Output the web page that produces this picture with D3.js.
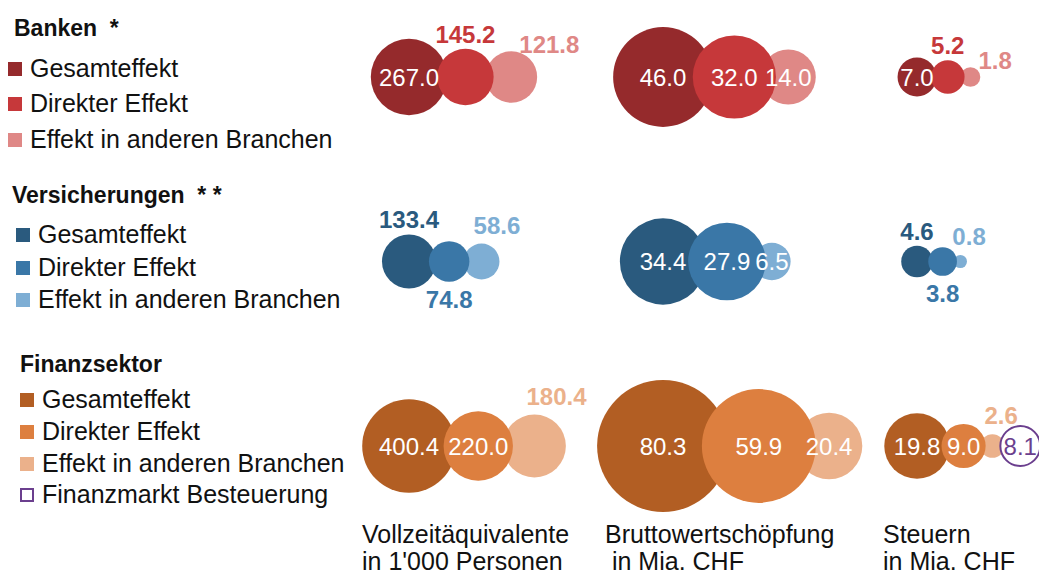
<!DOCTYPE html>
<html>
<head>
<meta charset="utf-8">
<script src="https://cdn.jsdelivr.net/npm/d3@7"></script>
<style>
  body { margin: 0; background: #fff; }
  text { font-family: "Liberation Sans", Arial, sans-serif; }
</style>
</head>
<body>
<div class="chart"></div>
<script>
// Data
const groups = ["Banken", "Versicherungen", "Finanzsektor"];
const groupTitles = ["Banken  *", "Versicherungen  * *", "Finanzsektor"];
const effects = ["Gesamteffekt", "Direkter Effekt", "Effekt in anderen Branchen"];
const columns = ["Vollzeitäquivalente", "Bruttowertschöpfung", "Steuern"];
const columnUnits = ["in 1'000 Personen", " in Mia. CHF", "in Mia. CHF"];

// values per column: [Gesamt, Direkt, andere Branchen]
const banken = [[267.0, 145.2, 121.8], [46.0, 32.0, 14.0], [7.0, 5.2, 1.8]];
const versicherungen = [[133.4, 74.8, 58.6], [34.4, 27.9, 6.5], [4.6, 3.8, 0.8]];
const finanzsektor = [[400.4, 220.0, 180.4], [80.3, 59.9, 20.4], [19.8, 9.0, 2.6]];
const finanzmarktLabel = "Finanzmarkt Besteuerung";
const finanzmarktSteuer = 8.1;

const values = [banken, versicherungen, finanzsektor];

// Styling / layout
const colors = [
  ["#952a2c", "#c6383a", "#df8886"],
  ["#2a5a7e", "#3a77a7", "#7eaed4"],
  ["#b25e23", "#dd7f3f", "#ebb18b"]
];
const purple = "#6b3f8e";

// where the value label goes: in, n (above), s (below), ne (above right)
const placement = [
  [["in", "n", "ne2"], ["in", "in", "in"], ["in", "n", "ne2"]],
  [["n", "s", "ne"], ["in", "in", "in"], ["n", "s", "ne"]],
  [["in", "in", "ne"], ["in", "in", "in"], ["in", "in", "ne"]]
];
const packing = [0.85, 0.78, 0.85];
const captionShift = [-47, -58, -34];

const width = 1039, height = 576;

const svg = d3.select(".chart").append("svg")
  .attr("width", width)
  .attr("height", height);

// scales
const x = d3.scalePoint().domain(columns).range([409, 917]);
const y = d3.scalePoint().domain(groups).range([77, 446]);

const rPersons = d3.scaleSqrt().domain([0, 400.4]).range([0, 46.8]);
const rChf = d3.scaleSqrt().domain([0, 80.3]).range([0, 65.9]);
const radius = [rPersons, rChf, rChf];

// build bubble list with chained x positions
const bubbles = [];
groups.forEach((g, gi) => {
  columns.forEach((c, ci) => {
    const r = radius[ci];
    let cx = x(c);
    let prevR = null;
    const list = values[gi][ci].map((v, i) => ({ value: v, idx: i, color: colors[gi][i], fill: true }));
    if (gi === 2 && ci === 2) list.push({ value: finanzmarktSteuer, idx: 3, color: purple, fill: false });
    list.forEach((d) => {
      d.r = r(d.value);
      if (prevR !== null) cx += packing[ci] * (prevR + d.r);
      d.cx = cx;
      d.cy = y(g);
      d.place = d.idx < 3 ? placement[gi][ci][d.idx] : "in";
      prevR = d.r;
      bubbles.push(d);
    });
  });
});

// draw order: middle circle on top
const order = { 2: 0, 0: 1, 3: 1, 1: 2 };
const sorted = bubbles.slice().sort((a, b) => order[a.idx] - order[b.idx]);

svg.append("g").selectAll("circle")
  .data(sorted)
  .join("circle")
  .attr("cx", (d) => d.cx)
  .attr("cy", (d) => d.cy)
  .attr("r", (d) => d.fill ? d.r : d.r - 1)
  .attr("fill", (d) => d.fill ? d.color : "#fff")
  .attr("stroke", (d) => d.fill ? "none" : d.color)
  .attr("stroke-width", 2);

const fmt = d3.format(".1f");

svg.append("g").selectAll("text")
  .data(bubbles)
  .join("text")
  .attr("x", (d) => {
    if (d.place === "ne") return d.cx - 8;
    if (d.place === "ne2") return d.cx + 8;
    return d.cx;
  })
  .attr("y", (d) => {
    if (d.place === "in") return d.cy;
    if (d.place === "n") return d.cy - d.r - 6;
    if (d.place === "s") return d.cy + d.r + 26;
    if (d.place === "ne") return d.cy - d.r - 10;
    return d.cy - d.r + 2;
  })
  .attr("dy", (d) => d.place === "in" ? "0.36em" : null)
  .attr("text-anchor", (d) => d.place.startsWith("ne") ? "start" : "middle")
  .attr("font-size", "24px")
  .attr("font-weight", (d) => d.place === "in" ? "normal" : "bold")
  .attr("fill", (d) => (d.place === "in" && d.fill) ? "#fff" : d.color)
  .text((d) => fmt(d.value));

// legend
const legendPos = [
  { x: 8, tx: 14, title: 36, items: [77, 112, 148] },
  { x: 16, tx: 12, title: 203, items: [243, 276, 308] },
  { x: 20, tx: 20, title: 372, items: [408, 440, 472, 503] }
];

groups.forEach((g, gi) => {
  const lp = legendPos[gi];
  const lg = svg.append("g");
  lg.append("text")
    .attr("x", lp.tx)
    .attr("y", lp.title)
    .attr("font-size", "23px")
    .attr("font-weight", "bold")
    .attr("fill", "#111")
    .style("white-space", "pre")
    .text(groupTitles[gi]);

  const items = effects.map((e, i) => ({ label: e, color: colors[gi][i], fill: true }));
  if (gi === 2) items.push({ label: finanzmarktLabel, color: purple, fill: false });

  const it = lg.selectAll(".item")
    .data(items)
    .join("g")
    .attr("class", "item")
    .attr("transform", (d, i) => `translate(${lp.x},${lp.items[i]})`);

  it.append("rect")
    .attr("x", (d) => d.fill ? 0 : 1)
    .attr("y", (d) => d.fill ? -15 : -14)
    .attr("width", (d) => d.fill ? 14 : 12)
    .attr("height", (d) => d.fill ? 14 : 12)
    .attr("fill", (d) => d.fill ? d.color : "#fff")
    .attr("stroke", (d) => d.fill ? "none" : d.color)
    .attr("stroke-width", 2);

  it.append("text")
    .attr("x", 22)
    .attr("font-size", "25px")
    .attr("fill", "#111")
    .text((d) => d.label);
});

// column captions
const cap = svg.append("g").selectAll("text")
  .data(columns)
  .join("text")
  .attr("x", (d, i) => x(d) + captionShift[i])
  .attr("y", 543)
  .attr("font-size", "25px")
  .attr("fill", "#111")
  .style("white-space", "pre");

cap.append("tspan").text((d) => d);
cap.append("tspan")
  .attr("x", (d, i) => x(d) + captionShift[i])
  .attr("dy", 27)
  .text((d, i) => columnUnits[i]);
</script>
</body>
</html>
